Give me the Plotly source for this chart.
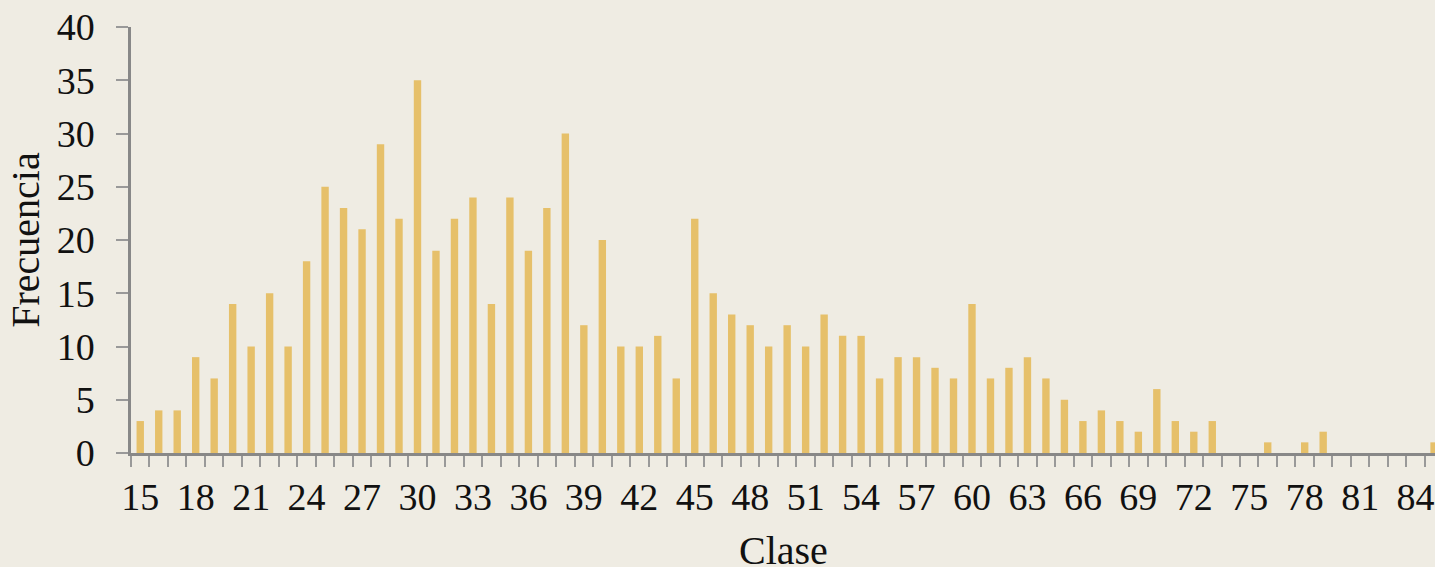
import plotly.graph_objs as go

# clases (edades) y frecuencias
clases = list(range(15, 86))
frecuencias = [3, 4, 4, 9, 7, 14, 10, 15, 10, 18,
               25, 23, 21, 29, 22, 35, 19, 22, 24, 14,
               24, 19, 23, 30, 12, 20, 10, 10, 11, 7,
               22, 15, 13, 12, 10, 12, 10, 13, 11, 11,
               7, 9, 9, 8, 7, 14, 7, 8, 9, 7,
               5, 3, 4, 3, 2, 6, 3, 2, 3, 0,
               0, 1, 0, 1, 2, 0, 0, 0, 0, 0,
               1]
etiquetas_x = list(range(15, 85, 3))
etiquetas_y = list(range(0, 45, 5))
bordes = [c - 0.5 for c in clases] + [clases[-1] + 0.5]

fuente = 'Liberation Serif'
bg = '#EFECE3'
gris = '#888888'

trace = go.Bar(
    x=clases,
    y=frecuencias,
    marker=dict(color='#E6C06A', line=dict(width=0)),
    hoverinfo='x+y'
)

layout = go.Layout(
    width=1435,
    height=567,
    paper_bgcolor=bg,
    plot_bgcolor=bg,
    bargap=0.6,
    showlegend=False,
    margin=dict(l=131, r=0, t=27, b=114),
    font=dict(family=fuente, size=38, color='#111111'),
    xaxis=dict(
        automargin=False,
        range=[14.5, 85.05],
        tickvals=etiquetas_x,
        ticks='',
        ticklabelstandoff=9,
        showgrid=False,
        zeroline=False,
        showline=True,
        linecolor=gris,
        linewidth=2.5,
        minor=dict(tickvals=bordes, ticks='outside', ticklen=11,
                   tickcolor='#999999', tickwidth=1.5, showgrid=False),
        tickfont=dict(size=38),
    ),
    yaxis=dict(
        title=dict(text='Frecuencia', standoff=5, font=dict(size=40)),
        automargin=False,
        range=[0, 40],
        tickvals=etiquetas_y,
        ticks='outside',
        ticklen=12,
        tickcolor='#999999',
        tickwidth=1.5,
        ticklabelstandoff=14,
        showgrid=False,
        zeroline=False,
        showline=True,
        linecolor=gris,
        linewidth=2.5,
        tickfont=dict(size=38),
    ),
    # titulo del eje x como anotacion para poder bajarlo hasta el borde
    annotations=[dict(
        text='Clase', xref='paper', yref='paper', x=0.5, y=0,
        xanchor='center', yanchor='top', yshift=-73, showarrow=False,
        font=dict(size=40)
    )],
)

fig = go.Figure(data=[trace], layout=layout)
fig.write_html(
    'out.html',
    config={'displayModeBar': False},
    post_script="document.body.style.margin='0';"
                "document.documentElement.style.overflow='hidden';"
)
